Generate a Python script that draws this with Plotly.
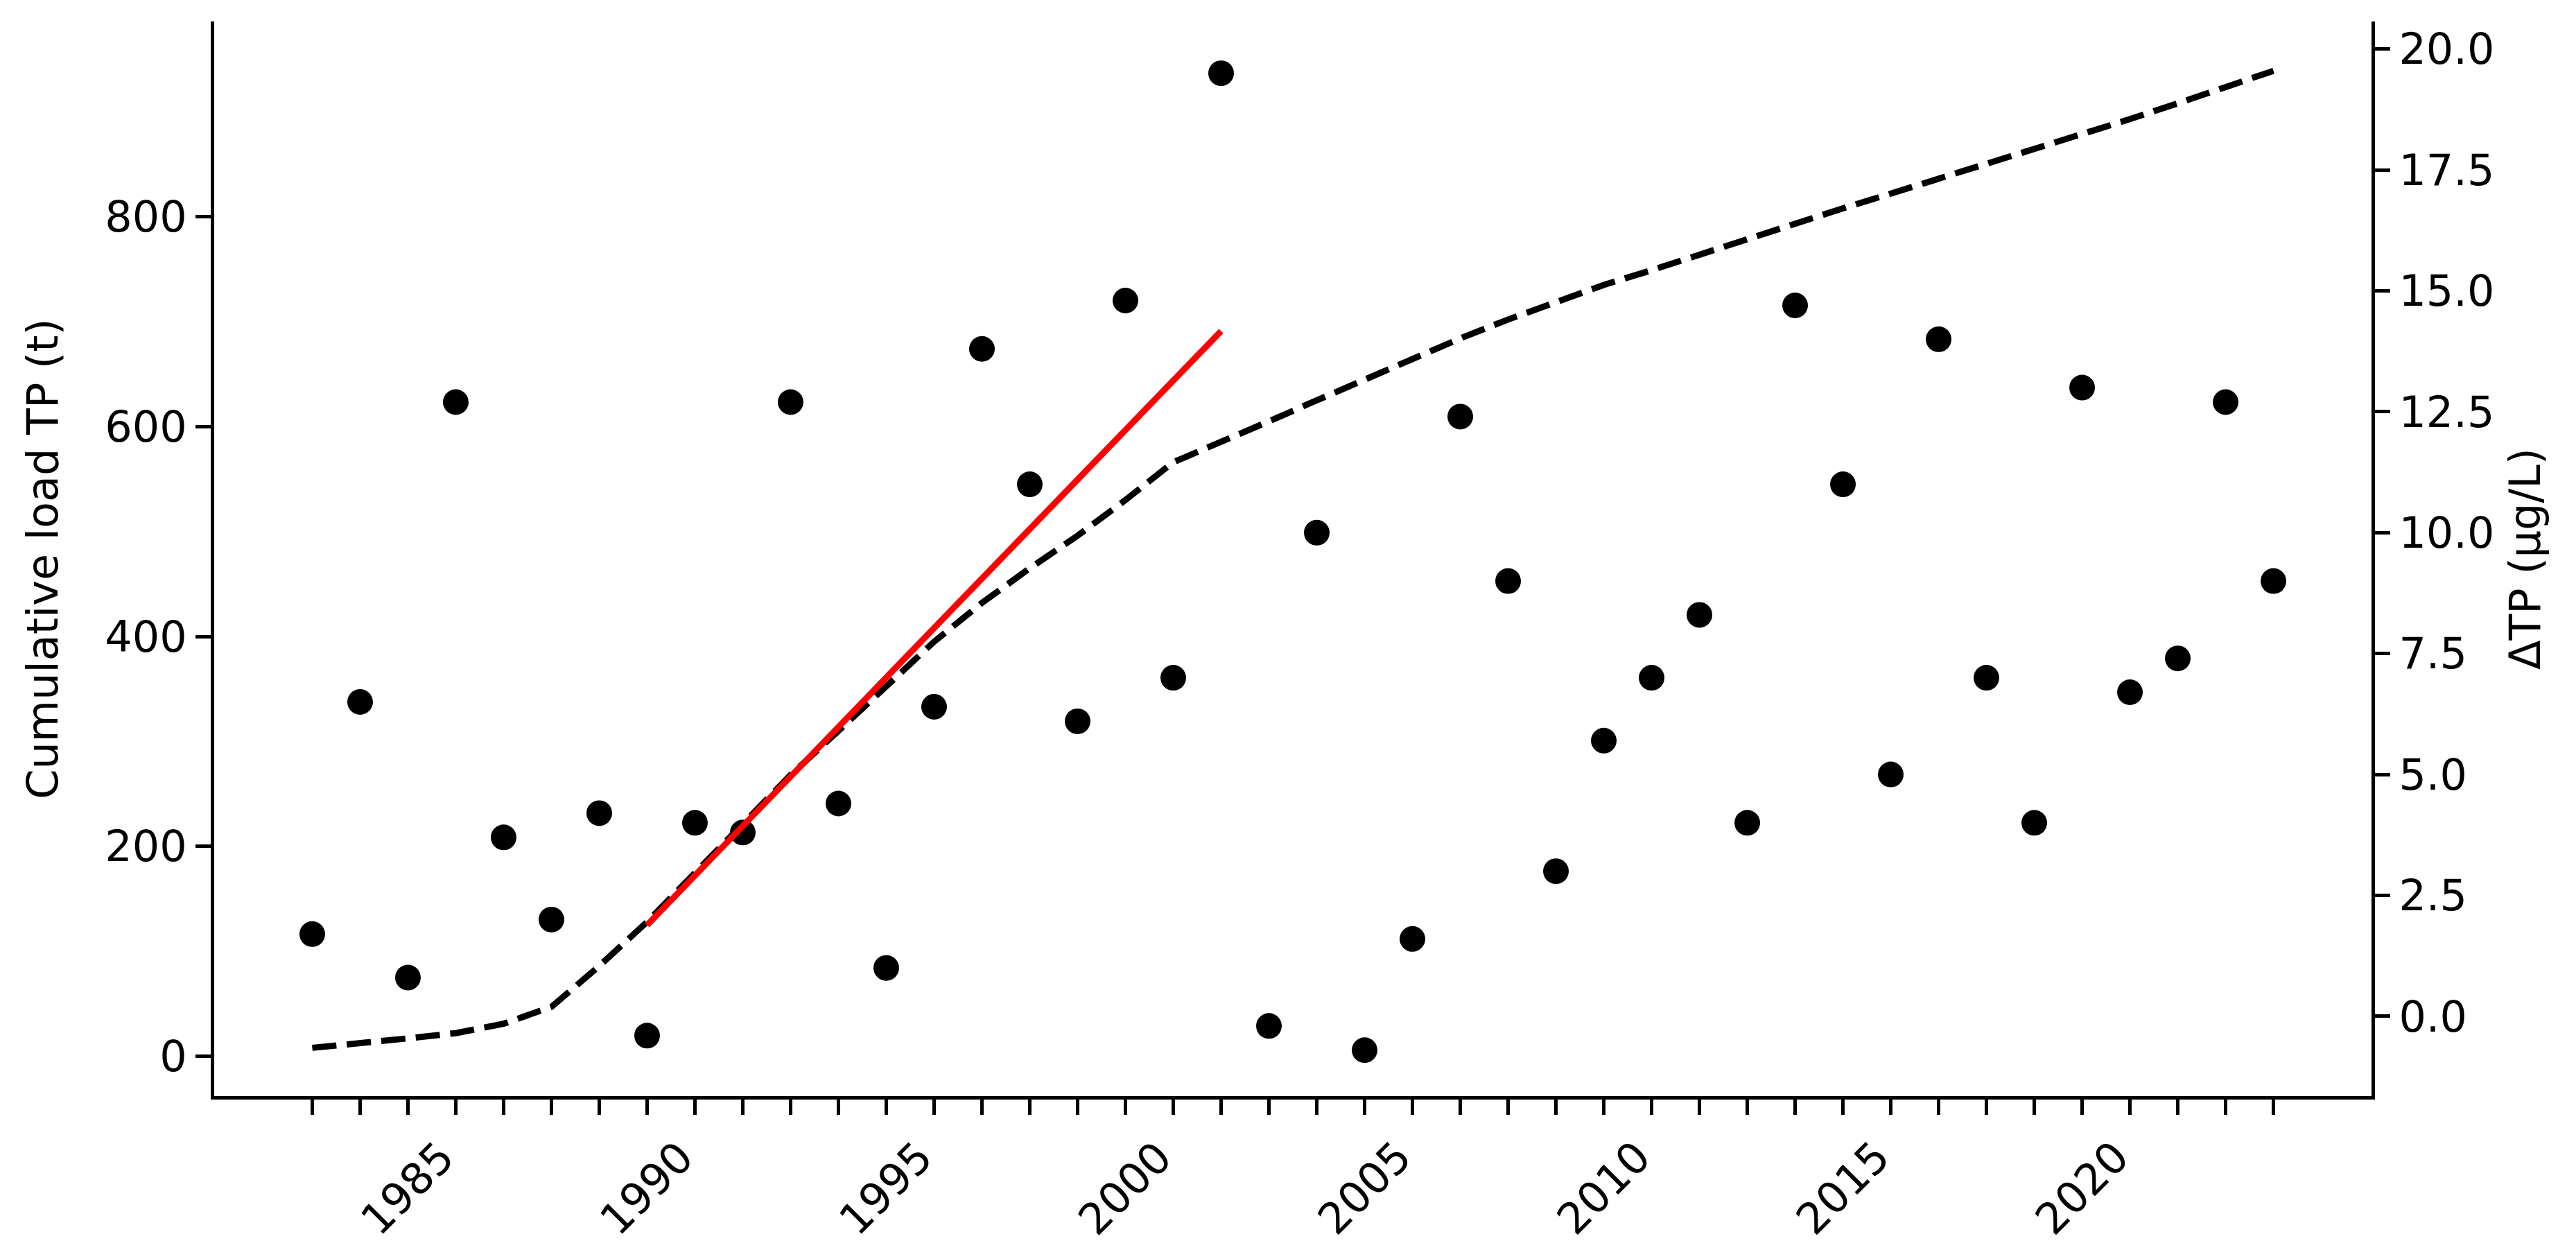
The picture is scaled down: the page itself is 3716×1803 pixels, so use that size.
import plotly.graph_objects as go

# Yearly data
years = list(range(1983, 2025))
delta_tp = [1.7, 6.5, 0.8, 12.7, 3.7, 2.0, 4.2, -0.4, 4.0, 3.8,
            12.7, 4.4, 1.0, 6.4, 13.8, 11.0, 6.1, 14.8, 7.0, 19.5,
            -0.2, 10.0, -0.7, 1.6, 12.4, 9.0, 3.0, 5.7, 7.0, 8.3,
            4.0, 14.7, 11.0, 5.0, 14.0, 7.0, 4.0, 13.0, 6.7, 7.4,
            12.7, 9.0]
cumulative_load = [8, 12, 17, 22, 31, 47, 86, 128, 174, 220,
                   268, 310, 353, 395, 432, 465, 496, 530, 566, 585,
                   605, 625, 645, 664, 684, 702, 719, 735, 749, 764,
                   779, 794, 808, 822, 836, 850, 864, 879, 893, 908,
                   923, 939]

# Linear trend 1990-2002
fit_years = [1990, 2002]
fit_load = [125, 691]

label_years = [1985, 1990, 1995, 2000, 2005, 2010, 2015, 2020]
left_ticks = [0, 200, 400, 600, 800]
right_ticks = [0, 2.5, 5, 7.5, 10, 12.5, 15, 17.5, 20]

FONT = "DejaVu Sans"
FS = 62

fig = go.Figure()

# dots on the right axis (drawn first, lines go on top)
fig.add_trace(go.Scatter(
    x=years, y=delta_tp, mode='markers', yaxis='y',
    marker=dict(color='black', size=37), showlegend=False
))

fig.add_trace(go.Scatter(
    x=years, y=cumulative_load, mode='lines', yaxis='y2',
    line=dict(color='black', width=9, dash='35px,15px'), showlegend=False
))

fig.add_trace(go.Scatter(
    x=fit_years, y=fit_load, mode='lines', yaxis='y2',
    line=dict(color='red', width=9), showlegend=False
))

axis_style = dict(
    showline=True, linecolor='black', linewidth=5, showgrid=False, zeroline=False,
    ticks='outside', ticklen=22, tickwidth=5, tickcolor='black',
    tickfont=dict(family=FONT, size=FS, color='black')
)

fig.update_layout(
    width=3716, height=1803,
    margin=dict(l=301, r=303, t=23, b=230, pad=0),
    paper_bgcolor='white', plot_bgcolor='white',
    font=dict(family=FONT, size=FS, color='black'),
    xaxis=dict(range=[1980.95, 2026.05], tickvals=years, showticklabels=False, **axis_style),
    yaxis=dict(
        side='right', range=[-1.65, 20.57], tickvals=right_ticks, tickformat='.1f',
        title=dict(text='ΔTP (µg/L)', font=dict(family=FONT, size=FS), standoff=25),
        **axis_style
    ),
    yaxis2=dict(
        side='left', overlaying='y', range=[-38, 986], tickvals=left_ticks,
        title=dict(text='Cumulative load TP (t)', font=dict(family=FONT, size=FS), standoff=49),
        **axis_style
    ),
)

# Rotated year labels centred under their ticks
for yr in label_years:
    fig.add_annotation(
        x=yr, y=-0.0858, xref='x', yref='paper', text=str(yr), showarrow=False,
        textangle=-45, xanchor='center', yanchor='middle',
        font=dict(family=FONT, size=FS, color='black')
    )

fig.write_html("out.html")
